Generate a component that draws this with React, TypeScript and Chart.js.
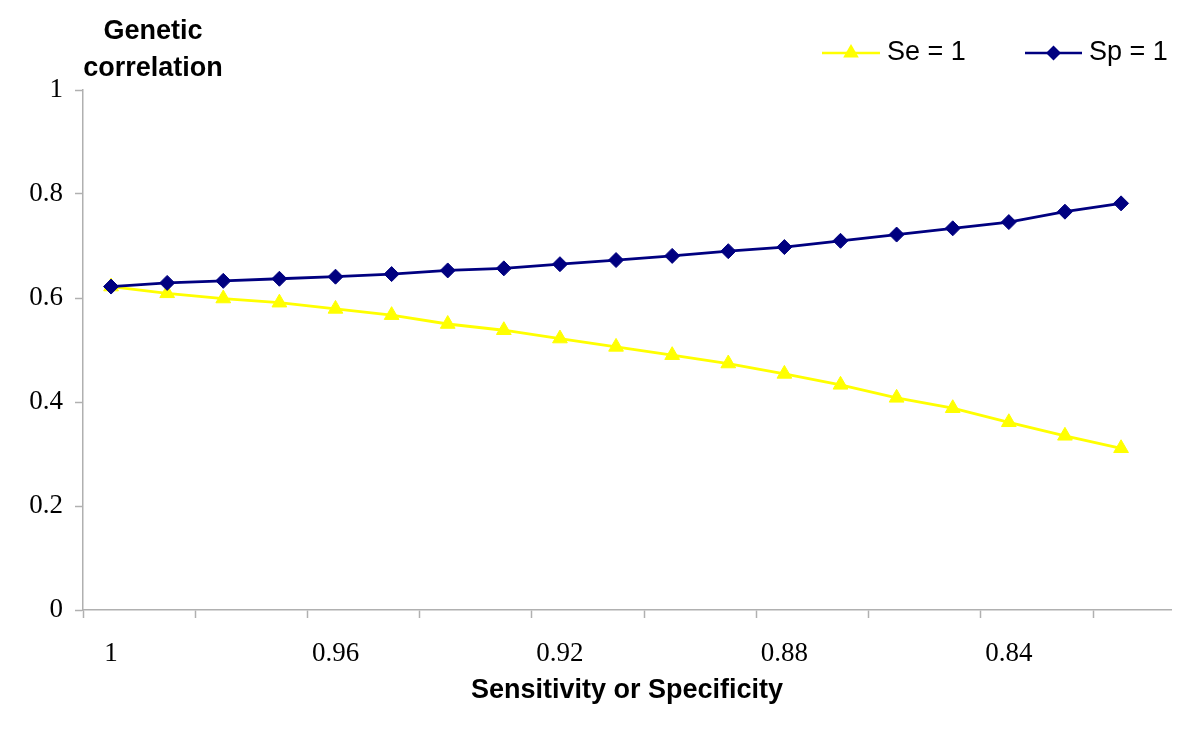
import React, { useEffect, useRef } from 'react';
import { Chart, registerables } from 'chart.js';

Chart.register(...registerables);

// ---- Data ----
const sensitivity = [1, 0.99, 0.98, 0.97, 0.96, 0.95, 0.94, 0.93, 0.92, 0.91, 0.9, 0.89, 0.88, 0.87, 0.86, 0.85, 0.84, 0.83, 0.82];
const seEqualsOne = [0.622, 0.609, 0.599, 0.591, 0.579, 0.567, 0.55, 0.538, 0.522, 0.506, 0.49, 0.474, 0.454, 0.433, 0.408, 0.388, 0.361, 0.335, 0.311];
const spEqualsOne = [0.622, 0.629, 0.633, 0.637, 0.641, 0.646, 0.653, 0.657, 0.665, 0.673, 0.681, 0.69, 0.698, 0.71, 0.722, 0.734, 0.746, 0.766, 0.782];
const xTickLabels = ['1', '0.96', '0.92', '0.88', '0.84'];
const yTickValues = [0, 0.2, 0.4, 0.6, 0.8, 1];
const seriesNames = ['Se = 1', 'Sp = 1'];
const yTitleLines = ['Genetic', 'correlation'];
const xTitle = 'Sensitivity or Specificity';

// ---- Styles ----
const SERIF = '"Liberation Serif", "Times New Roman", serif';
const SANS = '"Liberation Sans", Arial, sans-serif';
const AXIS_GRAY = '#b0b0b0';
const YELLOW = '#ffff00';
const NAVY = '#000080';

const isLabelValue = (v: number | undefined) =>
  v !== undefined && xTickLabels.some((l) => Math.abs(parseFloat(l) - v) < 1e-6);

function drawMarker(ctx: CanvasRenderingContext2D, style: string, x: number, y: number, r: number, color: string) {
  ctx.beginPath();
  if (style === 'triangle') {
    ctx.moveTo(x, y - r);
    ctx.lineTo(x + Math.sin((2 * Math.PI) / 3) * r, y + r / 2);
    ctx.lineTo(x - Math.sin((2 * Math.PI) / 3) * r, y + r / 2);
  } else {
    ctx.moveTo(x - r, y);
    ctx.lineTo(x, y - r);
    ctx.lineTo(x + r, y);
    ctx.lineTo(x, y + r);
  }
  ctx.closePath();
  ctx.fillStyle = color;
  ctx.fill();
}

const overlayPlugin = {
  id: 'overlay',
  afterDraw(chart: any) {
    const ctx: CanvasRenderingContext2D = chart.ctx;
    ctx.save();
    // y-axis title (top-left)
    ctx.fillStyle = '#000';
    ctx.font = `bold 27px ${SANS}`;
    ctx.textAlign = 'center';
    ctx.textBaseline = 'alphabetic';
    ctx.fillText(yTitleLines[0], 153, 39);
    ctx.fillText(yTitleLines[1], 153, 76);

    // legend (top-right)
    const slots = [
      { x0: 822, x1: 880, tx: 887 },
      { x0: 1025, x1: 1082, tx: 1089 },
    ];
    const ly = 53;
    chart.data.datasets.forEach((ds: any, i: number) => {
      const s = slots[i];
      ctx.strokeStyle = ds.borderColor;
      ctx.lineWidth = 2.5;
      ctx.beginPath();
      ctx.moveTo(s.x0, ly);
      ctx.lineTo(s.x1, ly);
      ctx.stroke();
      drawMarker(ctx, ds.pointStyle, (s.x0 + s.x1) / 2, ly, ds.pointStyle === 'triangle' ? 9 : 7.5, ds.pointBackgroundColor);
      ctx.fillStyle = '#000';
      ctx.font = `27px ${SANS}`;
      ctx.textAlign = 'left';
      ctx.textBaseline = 'alphabetic';
      ctx.fillText(ds.label, s.tx, 60);
    });
    ctx.restore();
  },
};

export default function App() {
  const ref = useRef<HTMLCanvasElement>(null);

  useEffect(() => {
    const canvas = ref.current;
    if (!canvas) return;
    const chart = new Chart(canvas, {
      type: 'line',
      data: {
        datasets: [
          {
            label: seriesNames[0],
            data: sensitivity.map((x, i) => ({ x, y: seEqualsOne[i] })),
            borderColor: YELLOW,
            backgroundColor: YELLOW,
            pointBackgroundColor: YELLOW,
            pointBorderColor: YELLOW,
            pointStyle: 'triangle',
            pointRadius: 8.5,
            pointBorderWidth: 1,
            borderWidth: 2.8,
            tension: 0,
            order: 1,
          },
          {
            label: seriesNames[1],
            data: sensitivity.map((x, i) => ({ x, y: spEqualsOne[i] })),
            borderColor: NAVY,
            backgroundColor: NAVY,
            pointBackgroundColor: NAVY,
            pointBorderColor: NAVY,
            pointStyle: 'rectRot',
            pointRadius: 7.5,
            pointBorderWidth: 1,
            borderWidth: 2.8,
            tension: 0,
            order: 0,
          },
        ],
      } as any,
      options: {
        responsive: false,
        animation: false,
        devicePixelRatio: 1,
        layout: { padding: { top: 90, right: 29, left: 0, bottom: 0 } },
        plugins: {
          legend: { display: false },
          title: { display: false },
          tooltip: { enabled: false },
        },
        scales: {
          x: {
            type: 'linear',
            reverse: true,
            min: 0.8111,
            max: 1.005,
            afterBuildTicks: (axis: any) => {
              const vals: number[] = [];
              sensitivity.forEach((v, i) => {
                if (i % 2 === 0) vals.push(v + 0.005);
              });
              xTickLabels.forEach((l) => vals.push(parseFloat(l)));
              vals.sort((a, b) => a - b);
              axis.ticks = vals.map((value) => ({ value }));
            },
            afterFit: (axis: any) => {
              axis.height = 122;
            },
            ticks: {
              autoSkip: false,
              maxRotation: 0,
              minRotation: 0,
              padding: 20,
              color: '#000',
              font: { family: SERIF, size: 27 },
              callback: (value: any) => {
                const m = xTickLabels.find((l) => Math.abs(parseFloat(l) - Number(value)) < 1e-6);
                return m ?? '';
              },
            },
            grid: {
              drawOnChartArea: false,
              drawTicks: true,
              tickLength: 8,
              tickWidth: 1.5,
              tickColor: (ctx: any) => (isLabelValue(ctx.tick?.value) ? 'rgba(0,0,0,0)' : AXIS_GRAY),
            },
            border: { display: true, color: AXIS_GRAY, width: 1.5 },
            title: {
              display: true,
              text: xTitle,
              color: '#000',
              font: { family: SANS, size: 27, weight: 'bold' },
              padding: { top: 0, bottom: 25 },
            },
          },
          y: {
            type: 'linear',
            min: 0,
            max: 1,
            afterBuildTicks: (axis: any) => {
              axis.ticks = yTickValues.map((value) => ({ value }));
            },
            afterFit: (axis: any) => {
              axis.width = 83;
            },
            ticks: {
              padding: 12,
              color: '#000',
              font: { family: SERIF, size: 27 },
              callback: (value: any) => String(Number(Number(value).toFixed(2))),
            },
            grid: {
              drawOnChartArea: false,
              drawTicks: true,
              tickLength: 8,
              tickWidth: 1.5,
              tickColor: AXIS_GRAY,
            },
            border: { display: true, color: AXIS_GRAY, width: 1.5 },
          },
        },
      } as any,
      plugins: [overlayPlugin],
    });
    return () => chart.destroy();
  }, []);

  return (
    <div style={{ position: 'absolute', left: 0, top: 0, width: 1200, height: 732, background: '#fff' }}>
      <canvas ref={ref} width={1200} height={732} style={{ display: 'block', width: 1200, height: 732 }} />
    </div>
  );
}
